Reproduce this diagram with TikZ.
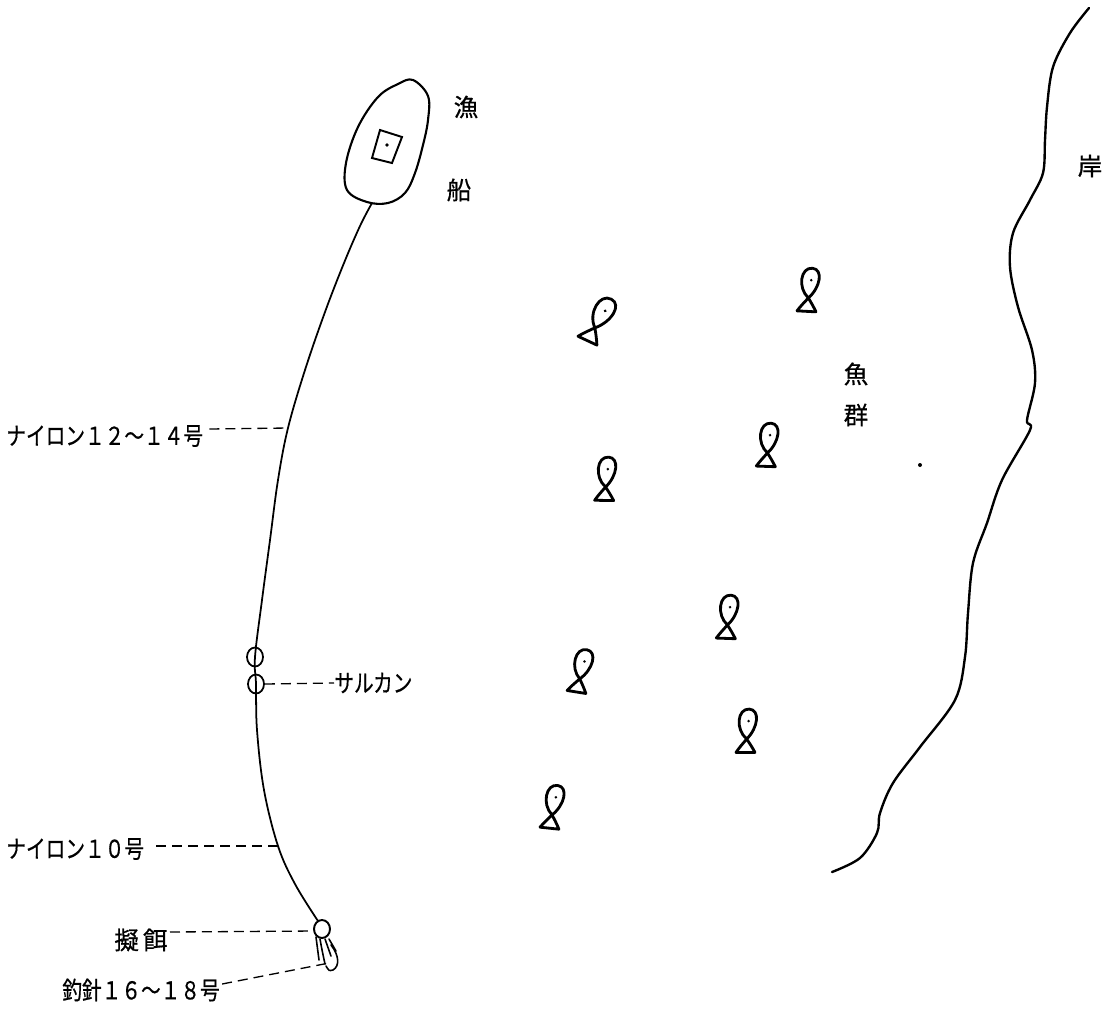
\documentclass[tikz,border=0pt]{standalone}
\usepackage{fontspec}
\setmainfont{Noto Sans CJK JP}[FakeBold=0.6]
\usetikzlibrary{calc,shapes.geometric}
\newcommand{\narrowtext}[1]{\scalebox{0.8}[1]{#1}}
\tikzset{
  lbl/.style={inner sep=0pt, font=\fontsize{14}{16}\selectfont},
  leader/.style={line width=0.75pt, dash pattern=on 0.2cm off 0.12cm},
  fishing/.style={line width=1pt, line cap=round, line join=round},
  shore/.style={line width=1.35pt, line cap=round, line join=round},
  fishline/.style={line width=1.6pt, line cap=round, line join=round},
  swivel/.style={draw, ellipse, minimum width=16*0.02cm, minimum height=19*0.02cm, inner sep=0pt, line width=1pt},
  fish/.pic={
    \draw[fishline] (-10,20) -- (9,19)
      .. controls (6,14) and (3,10) .. (0,6)
      .. controls (-12,-3) and (-11,-24) .. (1,-24)
      .. controls (12,-24) and (11,-6) .. (0,6)
      .. controls (-3,10) and (-7,15) .. (-10,20);
    \fill (1,-12) circle (1.4);
  }
}
\begin{document}
\begin{tikzpicture}[x=0.02cm,y=-0.02cm]
\useasboundingbox (0,0) rectangle (1109,1015);

% boat
\draw[fishing, line width=1.2pt] plot[smooth cycle, tension=0.6] coordinates {
  (413,80) (428,96) (428,120) (423,145) (415,173) (405,193) (388,203)
  (367,202) (347,190) (346,163) (358,127) (378,97) (398,84)};
\draw[line width=1.1pt] (380,130) -- (402,137) -- (392,163) -- (372,158) -- cycle;
\fill (387,145) circle (1.8);
\coordinate (stern) at (372,203);

\node[lbl] (gyo) at (466,107) {漁};
\node[lbl] (sen) at (459,190) {船};

% shore line
\draw[shore] plot[smooth, tension=0.55] coordinates {
  (1089,8) (1070,33) (1053,67) (1047,107) (1045,140) (1043,173) (1030,200)
  (1013,233) (1010,267) (1018,307) (1032,350) (1035,383) (1027,420) (1030,430)
  (1002,480) (987,523) (973,563) (968,613) (965,657) (955,700) (920,747)
  (893,783) (880,813) (877,833) (860,858) (832,872)};
\node[lbl] (kishi) at (1090,166) {岸};

% school of fish
\node[lbl] (uo) at (856,374) {魚};
\node[lbl] (mure) at (856,415) {群};
\fill (920,465) circle (2);

\pic[rotate=-28, scale=1.1] at (598,322) {fish};
\pic[rotate=-6] at (809,292) {fish};
\pic[rotate=-4] at (606,481) {fish};
\pic[rotate=-5] at (768,447) {fish};
\pic[rotate=-5] at (728,619) {fish};
\pic[rotate=-12] at (581,673) {fish};
\pic[rotate=-3] at (747,733) {fish};
\pic[rotate=-9] at (553,809) {fish};

% swivels
\node[swivel] (sw1) at (255,657) {};
\node[swivel] (sw2) at (256,684) {};

% fishing line
\coordinate (p12) at (288,428);
\coordinate (p10) at (278,846);
\coordinate (lure) at (318,921);
\draw[fishing] plot[smooth, tension=0.6] coordinates {
  (stern) (360,226) (344,263) (325,312) (305,370) (p12) (278,480)
  (270,540) (262,600) (sw1.center) (sw2.center) (257,730) (264,790) (p10)
  (295,884) (lure)};

% lure with tentacles
\draw[line width=1.1pt] (322,929) ellipse (8 and 9);
\coordinate (lureR) at (314,931);
\draw[line width=0.9pt, line cap=round]
  (316,937) .. controls (317,948) .. (319,960)
  (320,939) .. controls (322,950) .. (325,964)
  (325,939) .. controls (328,948) .. (331,956)
  (329,939) .. controls (333,945) .. (336,951)
  (331,945) .. controls (339,955) and (340,966) .. (333,970) .. controls (329,971) .. (326,966);
\coordinate (hook) at (329,963);

% labels with leaders
\node[lbl, anchor=west] (n12) at (6,436) {\narrowtext{ナイロン１２〜１４号}};
\draw[leader] (n12.east) ++(6,-7) coordinate (a12) (a12) -- (p12);

\node[lbl, anchor=west] (sal) at (334,683) {\narrowtext{サルカン}};
\draw[leader] (sw2.east) -- (sal.west);

\node[lbl, anchor=west] (n10) at (6,849) {\narrowtext{ナイロン１０号}};
\draw[leader] (n10.east) ++(12,-3) coordinate (a10) (a10) -- (p10);

\node[lbl, anchor=west] (gj) at (114,940) {擬\,餌};
\draw[leader] (gj.east) ++(2,-8) coordinate (agj) (agj) -- (lureR);

\node[lbl, anchor=west] (hari) at (62,990) {\narrowtext{釣針１６〜１８号}};
\draw[leader] (hari.east) ++(2,-6) coordinate (ah) (ah) -- (hook);
\end{tikzpicture}
\end{document}
